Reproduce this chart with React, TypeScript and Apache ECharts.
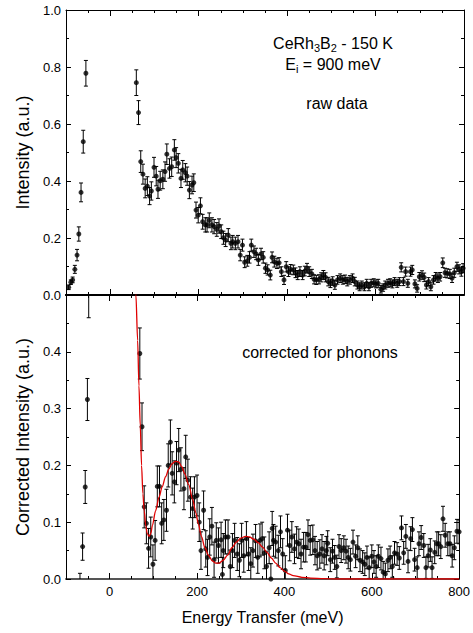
import React, { useEffect, useRef } from 'react';
import * as echarts from 'echarts';

// [energy transfer (meV), intensity, error]
const rawData: [number, number, number][] = [
  [-94, 0.027, 0.008], [-89, 0.045, 0.008], [-85, 0.053, 0.01], [-80, 0.09, 0.014], [-75, 0.14, 0.02],
  [-71, 0.214, 0.025], [-66, 0.36, 0.033], [-61, 0.538, 0.04], [-55, 0.778, 0.045], [-49, 1.06, 0.05],
  [59, 0.745, 0.045], [64, 0.64, 0.042], [69, 0.468, 0.038], [74, 0.424, 0.035], [79, 0.374, 0.033],
  [84, 0.382, 0.033], [89, 0.347, 0.03], [93, 0.365, 0.032], [99, 0.448, 0.035], [104, 0.417, 0.034],
  [108, 0.371, 0.032], [113, 0.401, 0.033], [119, 0.406, 0.033], [124, 0.433, 0.034], [128, 0.494, 0.036],
  [134, 0.444, 0.034], [139, 0.45, 0.034], [145, 0.509, 0.036], [149, 0.482, 0.035], [154, 0.462, 0.034],
  [160, 0.409, 0.032], [164, 0.439, 0.033], [170, 0.429, 0.032], [174, 0.417, 0.032], [179, 0.368, 0.03],
  [185, 0.386, 0.031], [189, 0.394, 0.031], [194, 0.298, 0.028], [199, 0.28, 0.027], [204, 0.313, 0.028],
  [209, 0.257, 0.026], [215, 0.246, 0.025], [219, 0.246, 0.025], [224, 0.262, 0.026], [230, 0.246, 0.025],
  [235, 0.24, 0.025], [241, 0.23, 0.024], [246, 0.242, 0.025], [251, 0.222, 0.024], [256, 0.201, 0.023],
  [261, 0.193, 0.023], [267, 0.21, 0.023], [273, 0.181, 0.022], [277, 0.187, 0.022], [283, 0.181, 0.022],
  [289, 0.187, 0.022], [294, 0.14, 0.02], [299, 0.175, 0.021], [304, 0.115, 0.019], [310, 0.12, 0.019],
  [315, 0.132, 0.02], [319, 0.175, 0.021], [325, 0.152, 0.02], [330, 0.144, 0.02], [335, 0.123, 0.019],
  [341, 0.144, 0.02], [346, 0.132, 0.02], [351, 0.094, 0.018], [356, 0.088, 0.018], [362, 0.07, 0.017],
  [366, 0.132, 0.019], [371, 0.117, 0.019], [377, 0.111, 0.018], [382, 0.113, 0.018], [387, 0.082, 0.017],
  [393, 0.053, 0.016], [398, 0.099, 0.018], [403, 0.082, 0.017], [408, 0.09, 0.017], [414, 0.088, 0.017],
  [419, 0.078, 0.017], [424, 0.07, 0.016], [429, 0.082, 0.017], [435, 0.07, 0.016], [440, 0.084, 0.017],
  [445, 0.094, 0.017], [450, 0.082, 0.017], [456, 0.074, 0.016], [461, 0.055, 0.016], [466, 0.053, 0.016],
  [472, 0.055, 0.016], [477, 0.062, 0.016], [482, 0.07, 0.016], [487, 0.062, 0.016], [493, 0.047, 0.015],
  [498, 0.041, 0.015], [503, 0.049, 0.015], [508, 0.035, 0.015], [514, 0.053, 0.015], [520, 0.059, 0.015],
  [526, 0.053, 0.015], [531, 0.055, 0.015], [536, 0.047, 0.015], [542, 0.053, 0.015], [548, 0.059, 0.015],
  [553, 0.047, 0.015], [559, 0.035, 0.014], [564, 0.029, 0.014], [569, 0.035, 0.014], [575, 0.029, 0.014],
  [580, 0.041, 0.014], [585, 0.029, 0.014], [590, 0.041, 0.014], [596, 0.043, 0.014], [601, 0.039, 0.014],
  [606, 0.041, 0.014], [612, 0.02, 0.013], [617, 0.026, 0.013], [622, 0.035, 0.014], [628, 0.041, 0.014],
  [633, 0.043, 0.014], [638, 0.039, 0.014], [643, 0.047, 0.014], [649, 0.041, 0.014], [654, 0.047, 0.014],
  [658, 0.097, 0.016], [663, 0.047, 0.014], [668, 0.082, 0.016], [673, 0.041, 0.014], [679, 0.082, 0.016],
  [683, 0.088, 0.016], [689, 0.039, 0.014], [694, 0.023, 0.013], [699, 0.064, 0.015], [705, 0.07, 0.015],
  [710, 0.062, 0.015], [715, 0.035, 0.014], [720, 0.047, 0.014], [725, 0.029, 0.014], [731, 0.053, 0.015],
  [736, 0.064, 0.015], [741, 0.059, 0.015], [746, 0.064, 0.015], [752, 0.113, 0.017], [757, 0.078, 0.016],
  [762, 0.076, 0.016], [768, 0.074, 0.016], [773, 0.059, 0.015], [778, 0.078, 0.016], [784, 0.099, 0.016],
  [789, 0.09, 0.016], [794, 0.082, 0.016], [798, 0.094, 0.016],
];

// [energy transfer (meV), corrected intensity, error]
const correctedData: [number, number, number][] = [
  [-68, -0.03, 0.04], [-62, 0.057, 0.024], [-56, 0.162, 0.029], [-51, 0.316, 0.037], [-48, 0.51, 0.05],
  [69, 0.397, 0.045], [74, 0.268, 0.042], [79, 0.127, 0.037], [84, 0.098, 0.036], [89, 0.054, 0.035],
  [94, 0.074, 0.035], [99, 0.026, 0.034], [104, 0.068, 0.035], [109, 0.163, 0.036], [114, 0.163, 0.036],
  [119, 0.098, 0.036], [124, 0.104, 0.036], [130, 0.121, 0.037], [134, 0.2, 0.038], [139, 0.241, 0.039],
  [143, 0.186, 0.038], [148, 0.171, 0.037], [153, 0.204, 0.038], [158, 0.227, 0.038], [163, 0.193, 0.038],
  [170, 0.159, 0.037], [174, 0.215, 0.038], [179, 0.174, 0.037], [185, 0.144, 0.036], [190, 0.124, 0.036],
  [194, 0.144, 0.036], [200, 0.147, 0.036], [205, 0.1, 0.034], [209, 0.05, 0.033], [215, 0.121, 0.034],
  [220, 0.053, 0.032], [224, 0.038, 0.032], [229, 0.074, 0.032], [234, 0.093, 0.033], [239, 0.034, 0.031],
  [244, 0.068, 0.031], [249, 0.059, 0.031], [255, 0.069, 0.031], [258, 0.008, 0.03], [260, 0.05, 0.03],
  [265, 0.074, 0.03], [271, 0.074, 0.03], [276, 0.022, 0.029], [281, 0.05, 0.03], [286, 0.068, 0.03],
  [292, 0.044, 0.029], [297, 0.033, 0.029], [302, 0.068, 0.03], [307, 0.041, 0.029], [313, 0.071, 0.03],
  [318, 0.044, 0.029], [323, 0.027, 0.028], [328, 0.05, 0.029], [334, 0.067, 0.029], [339, 0.038, 0.028],
  [344, 0.068, 0.029], [349, 0.071, 0.029], [354, 0.046, 0.028], [359, 0.022, 0.027], [365, 0.055, 0.028],
  [369, 0.0, 0.027], [372, 0.089, 0.03], [375, 0.068, 0.028], [380, 0.065, 0.028], [386, 0.05, 0.027],
  [391, 0.083, 0.028], [396, 0.044, 0.027], [402, 0.015, 0.026], [407, 0.086, 0.028], [412, 0.059, 0.027],
  [417, 0.074, 0.027], [423, 0.053, 0.026], [428, 0.065, 0.027], [433, 0.062, 0.026], [438, 0.044, 0.026],
  [444, 0.056, 0.026], [449, 0.056, 0.026], [454, 0.078, 0.026], [459, 0.068, 0.026], [465, 0.069, 0.026],
  [470, 0.05, 0.025], [475, 0.041, 0.025], [481, 0.044, 0.025], [486, 0.053, 0.025], [491, 0.041, 0.025],
  [496, 0.05, 0.025], [499, 0.063, 0.022], [505, 0.034, 0.021], [510, 0.049, 0.021], [515, 0.038, 0.021],
  [520, 0.022, 0.02], [525, 0.057, 0.021], [530, 0.05, 0.021], [536, 0.055, 0.021], [541, 0.049, 0.021],
  [546, 0.038, 0.02], [551, 0.034, 0.02], [557, 0.065, 0.021], [563, 0.04, 0.02], [568, 0.055, 0.021],
  [573, 0.033, 0.02], [579, 0.03, 0.02], [584, 0.026, 0.02], [589, 0.038, 0.02], [594, 0.02, 0.019],
  [600, 0.04, 0.02], [605, 0.03, 0.02], [610, 0.022, 0.019], [615, 0.04, 0.02], [621, 0.036, 0.02],
  [626, 0.012, 0.019], [631, 0.009, 0.019], [637, 0.033, 0.02], [642, 0.038, 0.02], [647, 0.022, 0.019],
  [652, 0.046, 0.02], [658, 0.044, 0.02], [663, 0.037, 0.02], [668, 0.09, 0.021], [673, 0.046, 0.02],
  [678, 0.075, 0.021], [683, 0.031, 0.02], [689, 0.071, 0.021], [693, 0.087, 0.021], [698, 0.034, 0.02],
  [704, 0.02, 0.019], [708, 0.062, 0.021], [713, 0.073, 0.021], [719, 0.059, 0.021], [724, 0.02, 0.019],
  [729, 0.041, 0.02], [734, 0.051, 0.02], [738, 0.02, 0.019], [744, 0.047, 0.02], [749, 0.062, 0.021],
  [753, 0.062, 0.021], [758, 0.057, 0.021], [763, 0.106, 0.022], [768, 0.077, 0.021], [774, 0.062, 0.021],
  [779, 0.062, 0.021], [784, 0.041, 0.02], [789, 0.055, 0.021], [795, 0.084, 0.021], [800, 0.083, 0.021],
];

// fitted curve [energy, intensity]
const fitCurve: [number, number][] = [
  [57, 0.6], [60, 0.5], [64, 0.42], [67, 0.34], [70, 0.27], [73, 0.2], [76, 0.15], [79, 0.12],
  [83, 0.092], [86, 0.08], [90, 0.075], [94, 0.08], [98, 0.095], [105, 0.12], [113, 0.144],
  [120, 0.162], [128, 0.18], [135, 0.193], [143, 0.203], [150, 0.207], [158, 0.206], [165, 0.198],
  [172, 0.185], [181, 0.166], [190, 0.14], [197, 0.117], [203, 0.097], [210, 0.075], [218, 0.055],
  [226, 0.042], [235, 0.032], [243, 0.028], [250, 0.028], [260, 0.033], [270, 0.042], [280, 0.055],
  [290, 0.065], [300, 0.072], [311, 0.075], [320, 0.074], [330, 0.07], [340, 0.064], [350, 0.056],
  [360, 0.047], [370, 0.037], [380, 0.028], [390, 0.02], [400, 0.014], [410, 0.009], [420, 0.006],
  [440, 0.003], [460, 0.0015], [490, 0.0005], [520, 0], [800, 0],
];

const xMajorTicks = [0, 200, 400, 600, 800];

const FONT = "'Liberation Sans', Arial, Helvetica, sans-serif";

function errorBars(params: any, api: any) {
  const x = api.value(0);
  const y = api.value(1);
  const e = api.value(2);
  const lo = api.coord([x, y - e]);
  const hi = api.coord([x, y + e]);
  const w = 2;
  const st = { stroke: '#000', lineWidth: 1 };
  return {
    type: 'group',
    children: [
      { type: 'line', shape: { x1: lo[0], y1: lo[1], x2: hi[0], y2: hi[1] }, style: st },
      { type: 'line', shape: { x1: hi[0] - w, y1: hi[1], x2: hi[0] + w, y2: hi[1] }, style: st },
      { type: 'line', shape: { x1: lo[0] - w, y1: lo[1], x2: lo[0] + w, y2: lo[1] }, style: st },
    ],
  };
}

function xAxes(g: number, bottomLineColor: string, bottomLineWidth: number, withLabels: boolean) {
  const common = {
    type: 'value',
    gridIndex: g,
    min: -100,
    max: 800,
    interval: 50,
    splitLine: { show: false },
  };
  return [
    {
      ...common,
      position: 'bottom',
      axisLine: { show: true, onZero: false, lineStyle: { color: bottomLineColor, width: bottomLineWidth } },
      axisTick: { show: true, inside: true, length: 3, lineStyle: { color: '#000' } },
      axisLabel: withLabels
        ? {
            show: true,
            margin: 6,
            color: '#000',
            fontFamily: FONT,
            fontSize: 13,
            formatter: (v: number) => (xMajorTicks.indexOf(v) >= 0 ? String(v) : ''),
          }
        : { show: false },
      name: withLabels ? 'Energy Transfer (meV)' : '',
      nameLocation: 'middle',
      nameGap: 30,
      nameTextStyle: { color: '#000', fontFamily: FONT, fontSize: 16 },
    },
    {
      ...common,
      position: 'bottom',
      axisLine: { show: false, onZero: false },
      axisTick: { show: true, inside: true, length: 6, customValues: xMajorTicks, lineStyle: { color: '#000' } },
      axisLabel: { show: false },
    },
    {
      ...common,
      position: 'top',
      axisLine: { show: true, onZero: false, lineStyle: { color: '#000', width: g === 0 ? 1 : 2 } },
      axisTick: { show: true, inside: true, length: 3, lineStyle: { color: '#000' } },
      axisLabel: { show: false },
    },
    {
      ...common,
      position: 'top',
      axisLine: { show: false, onZero: false },
      axisTick: { show: true, inside: true, length: 6, customValues: xMajorTicks, lineStyle: { color: '#000' } },
      axisLabel: { show: false },
    },
  ];
}

function yAxes(g: number, max: number, interval: number, name: string) {
  const common = {
    type: 'value',
    gridIndex: g,
    min: 0,
    max,
    interval,
    splitLine: { show: false },
    minorSplitLine: { show: false },
    axisTick: { show: true, inside: true, length: 5, lineStyle: { color: '#000' } },
    minorTick: { show: true, splitNumber: 2, length: 3, lineStyle: { color: '#000' } },
  };
  return [
    {
      ...common,
      position: 'left',
      axisLine: { show: true, onZero: false, lineStyle: { color: '#000', width: 1 } },
      axisLabel: {
        show: true,
        margin: 5,
        color: '#000',
        fontFamily: FONT,
        fontSize: 13,
        formatter: (v: number) => (v > max - interval / 2 && g === 1 ? '' : v.toFixed(1)),
      },
      name,
      nameLocation: 'middle',
      nameGap: 34,
      nameTextStyle: { color: '#000', fontFamily: FONT, fontSize: 18 },
    },
    {
      ...common,
      position: 'right',
      axisLine: { show: true, onZero: false, lineStyle: { color: '#000', width: 1 } },
      axisLabel: { show: false },
    },
  ];
}

const textStyle = {
  fill: '#000',
  fontFamily: FONT,
  fontSize: 16,
  textAlign: 'center',
  textVerticalAlign: 'middle',
  align: 'center',
  verticalAlign: 'middle',
};

export default function App() {
  const ref = useRef<HTMLDivElement>(null);
  useEffect(() => {
    const chart = echarts.init(ref.current!, null, { renderer: 'svg' });
    const option: any = {
      animation: false,
      backgroundColor: '#fff',
      grid: [
        { left: 66, top: 10, width: 398, height: 285 },
        { left: 66, top: 295, width: 398, height: 284 },
      ],
      xAxis: [...xAxes(0, '#000', 2, false), ...xAxes(1, '#555', 2, true)],
      yAxis: [...yAxes(0, 1, 0.2, 'Intensity (a.u.)'), ...yAxes(1, 0.5, 0.1, 'Corrected Intensity (a.u.)')],
      series: [
        {
          type: 'custom',
          xAxisIndex: 0,
          yAxisIndex: 0,
          renderItem: errorBars,
          data: rawData,
          encode: { x: 0, y: 1 },
          clip: true,
          silent: true,
        },
        {
          type: 'scatter',
          xAxisIndex: 0,
          yAxisIndex: 0,
          data: rawData.map((d) => [d[0], d[1]]),
          symbol: 'circle',
          symbolSize: 5,
          itemStyle: { color: '#000' },
          clip: true,
          silent: true,
        },
        {
          type: 'custom',
          xAxisIndex: 4,
          yAxisIndex: 2,
          renderItem: errorBars,
          data: correctedData,
          encode: { x: 0, y: 1 },
          clip: true,
          silent: true,
        },
        {
          type: 'scatter',
          xAxisIndex: 4,
          yAxisIndex: 2,
          data: correctedData.map((d) => [d[0], d[1]]),
          symbol: 'circle',
          symbolSize: 5,
          itemStyle: { color: '#000' },
          clip: true,
          silent: true,
        },
        {
          type: 'line',
          xAxisIndex: 4,
          yAxisIndex: 2,
          data: fitCurve,
          showSymbol: false,
          smooth: 0.3,
          smoothMonotone: 'x',
          lineStyle: { color: '#e00000', width: 1.3 },
          clip: true,
          silent: true,
          z: 3,
        },
      ],
      graphic: [
        {
          type: 'text',
          x: 333,
          y: 43,
          style: {
            ...textStyle,
            text: 'CeRh{s|3}B{s|2} - 150 K',
            rich: { s: { fontSize: 11, fontFamily: FONT, fill: '#000', padding: [9, 0, 0, 0] } },
          },
        },
        {
          type: 'text',
          x: 333,
          y: 64,
          style: {
            ...textStyle,
            text: 'E{s|i} = 900 meV',
            rich: { s: { fontSize: 11, fontFamily: FONT, fill: '#000', padding: [9, 0, 0, 0] } },
          },
        },
        {
          type: 'text',
          x: 337,
          y: 103,
          style: { ...textStyle, text: 'raw data' },
        },
        {
          type: 'text',
          x: 320,
          y: 352,
          style: { ...textStyle, text: 'corrected for phonons' },
        },
      ],
    };
    chart.setOption(option);
    return () => chart.dispose();
  }, []);
  return (
    <div
      ref={ref}
      style={{ position: 'fixed', left: 0, top: 0, width: 473, height: 633, background: '#fff' }}
    />
  );
}
